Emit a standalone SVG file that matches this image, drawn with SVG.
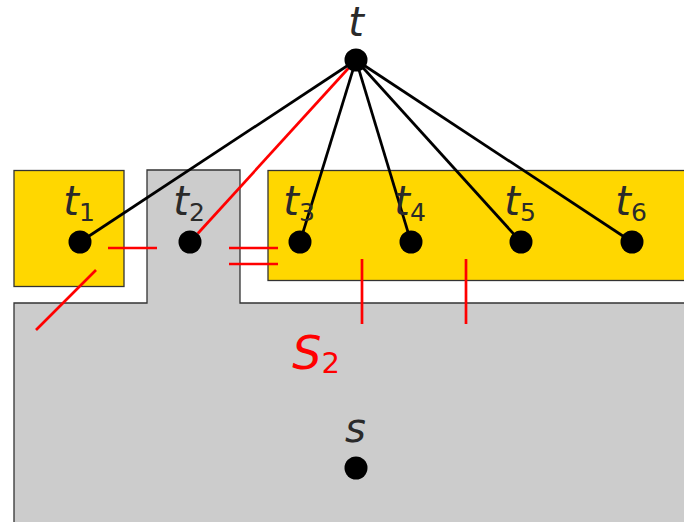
<svg xmlns="http://www.w3.org/2000/svg" width="684" height="522" viewBox="0 0 684 522">
<style>
.region{stroke:#333;stroke-width:1.3}
.gray{fill:#cccccc}
.yellow{fill:#ffd700}
.lbl{font-family:"DejaVu Sans",sans-serif;font-style:italic;font-size:40px;fill:#2a2a2a;text-anchor:middle}
.sub{font-style:normal;font-size:25px}
.dot{fill:#000}
.edge{stroke:#000;stroke-width:2.7;fill:none}
.cut{stroke:#ff0000;stroke-width:2.7;fill:none}
.red{fill:#ff0000}
</style>
<rect width="684" height="522" fill="#fff"/>
<g id="regions">
<path class="region gray" d="M14,524 L14,303 L147,303 L147,170 L240,170 L240,303 L690,303 L690,524 Z"/>
<rect class="region yellow" x="14" y="170.5" width="110" height="116"/>
<rect class="region yellow" x="268" y="170.5" width="430" height="110"/>
</g>
<g id="region-label">
<text class="lbl red" x="316" y="369" style="font-size:46px;fill:#ff0000">S<tspan class="sub" dy="4" style="font-size:29px">2</tspan></text>
</g>
<g id="connectors">
<line class="edge" x1="356" y1="60" x2="80" y2="242"/>
<line class="cut" x1="348.2" y1="68.5" x2="197.8" y2="233.5"/>
<line class="edge" x1="356" y1="60" x2="300" y2="242"/>
<line class="edge" x1="356" y1="60" x2="411" y2="242"/>
<line class="edge" x1="356" y1="60" x2="521" y2="242"/>
<line class="edge" x1="356" y1="60" x2="632" y2="242"/>
</g>
<g id="cuts">
<line class="cut" x1="108" y1="248" x2="157" y2="248"/>
<line class="cut" x1="229" y1="248" x2="278" y2="248"/>
<line class="cut" x1="229" y1="264" x2="278" y2="264"/>
<line class="cut" x1="96" y1="270" x2="36" y2="330"/>
<line class="cut" x1="362" y1="259" x2="362" y2="324"/>
<line class="cut" x1="466" y1="259" x2="466" y2="324"/>
</g>
<g id="node-t"><circle class="dot" cx="356" cy="60" r="11.5"/><text class="lbl" x="356" y="36">t</text></g>
<g id="node-t1"><circle class="dot" cx="80" cy="242" r="11.5"/><text class="lbl" x="79" y="215">t<tspan class="sub" dy="6">1</tspan></text></g>
<g id="node-t2"><circle class="dot" cx="190" cy="242" r="11.5"/><text class="lbl" x="189" y="215">t<tspan class="sub" dy="6">2</tspan></text></g>
<g id="node-t3"><circle class="dot" cx="300" cy="242" r="11.5"/><text class="lbl" x="299" y="215">t<tspan class="sub" dy="6">3</tspan></text></g>
<g id="node-t4"><circle class="dot" cx="411" cy="242" r="11.5"/><text class="lbl" x="410" y="215">t<tspan class="sub" dy="6">4</tspan></text></g>
<g id="node-t5"><circle class="dot" cx="521" cy="242" r="11.5"/><text class="lbl" x="520" y="215">t<tspan class="sub" dy="6">5</tspan></text></g>
<g id="node-t6"><circle class="dot" cx="632" cy="242" r="11.5"/><text class="lbl" x="631" y="215">t<tspan class="sub" dy="6">6</tspan></text></g>
<g id="node-s"><circle class="dot" cx="356" cy="468" r="11.5"/><text class="lbl" x="355.5" y="442">s</text></g>
</svg>
